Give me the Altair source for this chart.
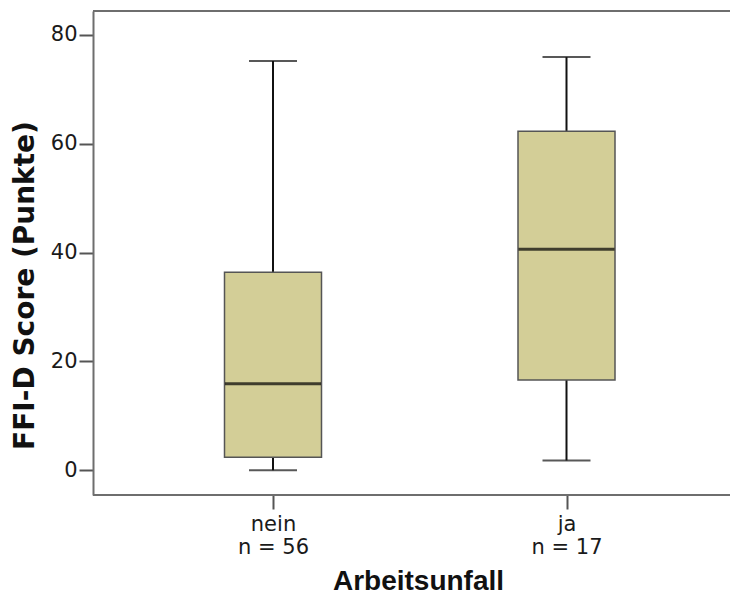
import altair as alt
import pandas as pd

categories = ["nein", "ja"]
counts = [56, 17]
whisker_low = [0.0, 1.8]
q1 = [2.4, 16.6]
median = [15.9, 40.6]
q3 = [36.4, 62.3]
whisker_high = [75.2, 75.9]

df = pd.DataFrame({
    "cat": categories,
    "n": counts,
    "lo": whisker_low,
    "q1": q1,
    "med": median,
    "q3": q3,
    "hi": whisker_high,
})

label_expr = " : ".join(
    f"datum.value == '{c}' ? ['{c}', 'n = {n}']" for c, n in zip(categories, counts)
) + " : datum.label"

FRAME = "#6e6e6e"
W, H = 637, 484

x = alt.X(
    "cat:N",
    sort=categories,
    scale=alt.Scale(type="point", range=[180, 473.5], padding=0),
    axis=alt.Axis(
        title="Arbeitsunfall",
        labelExpr=label_expr,
        labelAngle=0,
        labelFont="DejaVu Sans",
        labelFontSize=21,
        labelLineHeight=23,
        labelColor="#1a1a1a",
        labelPadding=4,
        labelBaseline="top",
        tickSize=14,
        tickWidth=2,
        tickColor="#555555",
        domain=False,
        titleFont="Liberation Sans",
        titleFontSize=28,
        titleFontWeight="bold",
        titleColor="#111111",
        titleX=325,
        titleY=94,
        titleBaseline="alphabetic",
        titleAlign="center",
    ),
)

yscale = alt.Scale(domain=[-4.54, 84.37], nice=False, zero=False)
yaxis = alt.Axis(
    title="FFI-D Score (Punkte)",
    values=[0, 20, 40, 60, 80],
    grid=False,
    domain=True,
    domainColor=FRAME,
    domainWidth=2,
    tickSize=14,
    tickWidth=2,
    tickColor="#555555",
    labelFont="DejaVu Sans",
    labelFontSize=21,
    labelColor="#1a1a1a",
    labelPadding=2,
    titleFont="DejaVu Sans",
    titleFontSize=28,
    titleFontWeight="bold",
    titleColor="#111111",
    titleAngle=-90,
    titleX=-68,
    titleY=274,
    titleAlign="center",
    titleBaseline="middle",
)

base = alt.Chart(df)

top_border = alt.Chart(df).mark_rule(color=FRAME, strokeWidth=2).encode(
    x=alt.value(0), x2=alt.value(W), y=alt.value(0)
)
bottom_border = alt.Chart(df).mark_rule(color=FRAME, strokeWidth=2).encode(
    x=alt.value(0), x2=alt.value(W), y=alt.value(H)
)
whisk_low = base.mark_rule(color="#111111", strokeWidth=2).encode(
    x=x, y=alt.Y("lo:Q", scale=yscale, axis=yaxis), y2="q1:Q"
)
whisk_high = base.mark_rule(color="#111111", strokeWidth=2).encode(
    x=x, y=alt.Y("q3:Q", scale=yscale, axis=yaxis), y2="hi:Q"
)
box = base.mark_bar(size=97, color="#d3ce97", stroke="#555555", strokeWidth=1.5).encode(
    x=x, y=alt.Y("q1:Q", scale=yscale, axis=yaxis), y2="q3:Q"
)
med = base.mark_tick(size=96, thickness=3, color="#000000", orient="horizontal").encode(
    x=x, y=alt.Y("med:Q", scale=yscale, axis=yaxis)
)
cap_lo = base.mark_tick(size=48, thickness=2, color="#111111", orient="horizontal").encode(
    x=x, y=alt.Y("lo:Q", scale=yscale, axis=yaxis)
)
cap_hi = base.mark_tick(size=48, thickness=2, color="#111111", orient="horizontal").encode(
    x=x, y=alt.Y("hi:Q", scale=yscale, axis=yaxis)
)

chart = alt.layer(
    whisk_low, whisk_high, box, med, cap_lo, cap_hi, top_border, bottom_border
).properties(
    width=W,
    height=H,
    autosize=alt.AutoSizeParams(type="none"),
    padding={"left": 85, "top": 3, "right": 0, "bottom": 100},
).configure_view(
    fill="#f0f0f0",
    stroke=None,
).configure(background="white")

chart.save("out.html", embed_options={"renderer": "svg", "actions": False})
